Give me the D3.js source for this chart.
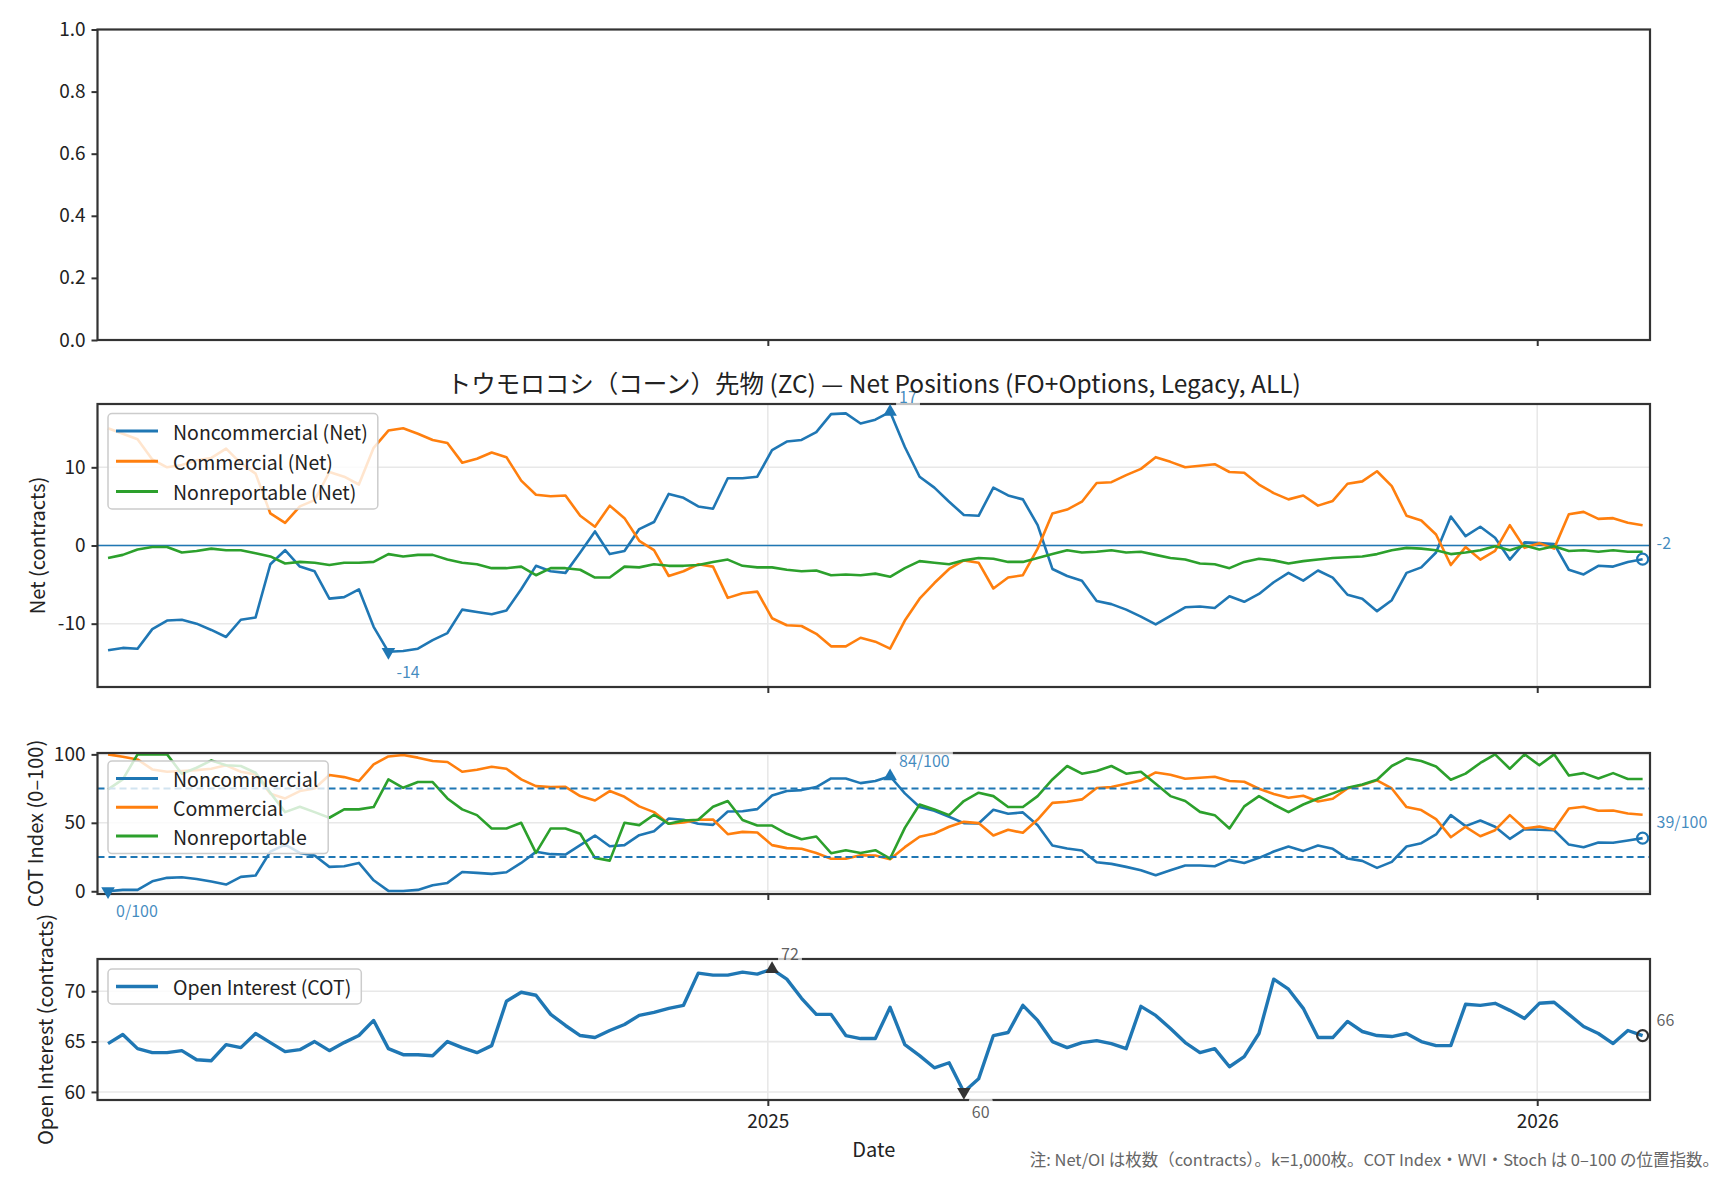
<!DOCTYPE html>
<html>
<head>
<meta charset="utf-8">
<script src="https://cdn.jsdelivr.net/npm/d3@7"></script>
<style>
  body { margin: 0; background: #fff; }
  text { font-family: "Noto Sans CJK JP", "Noto Sans", sans-serif; }
</style>
</head>
<body>
<svg id="chart" width="1728" height="1180"></svg>
<script>
// weekly COT report dates (Fridays)
const firstReport = "2024-02-23"
const lastReport = "2026-02-20"

// net positions, thousand contracts
const netNonc = [-13.4, -13.1, -13.2, -10.7, -9.6, -9.5, -10.0, -10.8, -11.7, -9.5, -9.2, -2.4, -0.6, -2.7, -3.3, -6.8, -6.6, -5.6, -10.4, -13.6, -13.5, -13.2, -12.1, -11.2, -8.2, -8.5, -8.8, -8.3, -5.6, -2.6, -3.3, -3.5, -0.9, 1.8,
  -1.1, -0.7, 2.1, 3.0, 6.6, 6.1, 5.0, 4.7, 8.6, 8.6, 8.8, 12.2, 13.3, 13.5, 14.5, 16.8, 16.9, 15.6, 16.1, 17.1, 12.6, 8.8, 7.4, 5.6, 3.9, 3.8, 7.4, 6.4, 5.9, 2.6, -3.0, -3.9, -4.5, -7.1, -7.5, -8.2, -9.1, -10.1, -9.0, -7.9,
  -7.8, -8.0, -6.5, -7.2, -6.2, -4.7, -3.5, -4.5, -3.2, -4.1, -6.3, -6.8, -8.4, -7.0, -3.5, -2.8, -0.9, 3.7, 1.2, 2.4, 1.0, -1.8, 0.4, 0.3, 0.2, -3.1, -3.7, -2.6, -2.7, -2.1, -1.75]
const netComm = [15.0, 14.3, 13.6, 11.0, 10.0, 10.3, 10.9, 11.2, 12.4, 10.5, 9.2, 4.1, 2.9, 5.0, 5.8, 9.4, 8.8, 7.8, 12.5, 14.7, 15.0, 14.3, 13.5, 13.1, 10.6, 11.1, 11.9, 11.3, 8.3, 6.5, 6.3, 6.4, 3.8, 2.4,
  5.1, 3.5, 0.6, -0.6, -3.9, -3.3, -2.4, -2.7, -6.7, -6.1, -5.9, -9.3, -10.2, -10.3, -11.3, -12.9, -12.9, -11.8, -12.3, -13.2, -9.6, -6.8, -4.8, -3.0, -1.9, -2.2, -5.5, -4.1, -3.8, -0.4, 4.1, 4.6, 5.6, 8.0, 8.1, 9.0, 9.8, 11.3, 10.7, 10.0,
  10.2, 10.4, 9.4, 9.3, 7.8, 6.7, 5.9, 6.4, 5.1, 5.7, 7.9, 8.2, 9.5, 7.6, 3.8, 3.2, 1.4, -2.5, -0.2, -1.8, -0.7, 2.6, -0.3, 0.3, -0.4, 4.0, 4.3, 3.4, 3.5, 2.9, 2.6]
const netNonrep = [-1.6, -1.2, -0.5, -0.2, -0.2, -0.9, -0.7, -0.4, -0.6, -0.6, -1.0, -1.4, -2.3, -2.1, -2.2, -2.5, -2.2, -2.2, -2.1, -1.1, -1.4, -1.2, -1.2, -1.8, -2.2, -2.4, -2.9, -2.9, -2.7, -3.8, -2.9, -2.9, -3.1, -4.1,
  -4.1, -2.7, -2.8, -2.4, -2.6, -2.6, -2.5, -2.1, -1.8, -2.6, -2.8, -2.8, -3.1, -3.3, -3.2, -3.8, -3.7, -3.8, -3.6, -4.0, -2.9, -2.0, -2.2, -2.4, -1.9, -1.6, -1.7, -2.1, -2.1, -1.6, -1.1, -0.6, -0.9, -0.8, -0.6, -0.9, -0.8, -1.2, -1.6, -1.8,
  -2.3, -2.4, -2.9, -2.1, -1.7, -1.9, -2.3, -2.0, -1.8, -1.6, -1.5, -1.4, -1.1, -0.6, -0.3, -0.4, -0.6, -1.1, -0.9, -0.6, -0.1, -0.6, 0.0, -0.5, -0.1, -0.7, -0.6, -0.8, -0.6, -0.8, -0.8]

// COT index 0-100
const cotNonc = [0, 1, 1, 7.3, 9.8, 10.2, 9.0, 7.1, 4.9, 10.5, 11.5, 29.0, 34.1, 28, 26.1, 17.8, 18.3, 20.7, 8.0, 0.3, 0.2, 1, 4.4, 6.1, 14.1, 13.4, 12.7, 13.9, 20.7, 28.8, 27.1, 26.8, 33.7, 40.7,
  32.9, 33.7, 41, 43.9, 53.2, 52.2, 49.3, 48.5, 58.3, 58.5, 60, 70, 73.2, 73.9, 76.1, 82.4, 82.4, 79, 80.5, 84, 71.5, 61.5, 58.8, 54.4, 49.8, 49.5, 59.5, 56.6, 57.6, 48.3, 33.4, 31.2, 29.8, 21.2, 20, 17.8, 15.4, 11.7, 15.4, 18.8,
  18.8, 18.3, 22.9, 20.7, 24.4, 29, 32.7, 29.5, 33.4, 31, 23.9, 22.2, 17.1, 21.5, 32.7, 35.1, 41.5, 55.6, 47.6, 51.7, 47.1, 38.3, 45.4, 44.9, 44.6, 34.1, 32.2, 35.6, 35.4, 37.1, 38.8]
const cotComm = [100, 98.3, 96.3, 89, 87.3, 87.8, 88.5, 89.5, 92, 87.3, 85.4, 71.2, 67.8, 73.2, 75.1, 84.9, 83.4, 80.5, 92.7, 98.5, 99.5, 97.6, 95.1, 94.4, 87.3, 88.8, 91, 89.5, 81.7, 76.8, 76.1, 76.3, 69.5, 66.3,
  73.2, 69, 62, 57.8, 49.3, 50.2, 52.2, 52.4, 41.7, 43.4, 42.9, 33.7, 31.5, 31, 28, 23.7, 23.7, 26.3, 26.1, 23.4, 32.2, 39.8, 42.2, 47.1, 50.7, 49.8, 40.7, 44.9, 42.7, 52.4, 64.6, 65.4, 67.1, 75.4, 76.1, 78.5, 81, 86.8, 85.1, 82.2,
  82.9, 83.7, 80.5, 80, 74.9, 71, 68.3, 69.8, 65.6, 67.6, 75.1, 77.6, 81, 75.1, 61.5, 59.3, 52.7, 39.5, 47.1, 40.2, 44.6, 55.6, 45.9, 47.3, 45.1, 60.5, 61.7, 58.8, 59, 56.8, 55.9]
const cotNonrep = [74.4, 81.7, 100, 100, 100, 85.9, 90.2, 95.6, 92, 91.5, 86.6, 72, 57.8, 61.7, 57.8, 53.7, 59.8, 59.8, 61.5, 81.7, 75.6, 79.8, 79.8, 67.8, 59.8, 55.6, 45.9, 45.9, 50, 28, 45.9, 45.9, 42, 24.4,
  22.4, 50, 48.3, 55.9, 49.3, 51.7, 52.2, 61.7, 65.9, 52, 48, 48, 42, 38, 40, 27.8, 30, 28, 30, 23.9, 46.3, 63.4, 59.8, 55.6, 65.9, 72, 69.5, 61.5, 61.5, 69.5, 81.7, 91.5, 85.9, 87.8, 91.5, 85.9, 87.3, 78.5, 69.5, 65.9,
  58, 55.6, 45.9, 62, 69.5, 63.4, 57.8, 63.4, 67.8, 71.5, 75.6, 78, 81.5, 91.5, 97.1, 95.1, 91.2, 81.5, 85.9, 93.7, 100, 89.5, 100, 92, 100, 84.6, 86.3, 82.4, 86.3, 82, 82]

// open interest, thousand contracts
const openInterest = [64.8, 65.7, 64.3, 63.9, 63.9, 64.1, 63.2, 63.1, 64.7, 64.4, 65.8, 64.9, 64.0, 64.2, 65.0, 64.1, 64.9, 65.6, 67.1, 64.3, 63.7, 63.7, 63.6, 65.0, 64.4, 63.9, 64.6, 69.0, 69.9, 69.6, 67.7, 66.6, 65.6, 65.4,
  66.1, 66.7, 67.6, 67.9, 68.3, 68.6, 71.8, 71.6, 71.6, 71.9, 71.7, 72.2, 71.2, 69.3, 67.7, 67.7, 65.6, 65.3, 65.3, 68.4, 64.7, 63.6, 62.4, 62.9, 60.0, 61.3, 65.6, 65.9, 68.6, 67.1, 65.0, 64.4, 64.9, 65.1, 64.8, 64.3, 68.5, 67.6, 66.3, 64.9,
  63.9, 64.3, 62.5, 63.5, 65.8, 71.2, 70.2, 68.3, 65.4, 65.4, 67.0, 66.0, 65.6, 65.5, 65.8, 65.0, 64.6, 64.6, 68.7, 68.6, 68.8, 68.1, 67.3, 68.8, 68.9, 67.7, 66.5, 65.8, 64.8, 66.1, 65.6]

const topTicks = [0, 0.2, 0.4, 0.6, 0.8, 1.0]
const netTicks = [-10, 0, 10]
const cotTicks = [0, 50, 100]
const cotBands = [25, 75]
const oiTicks = [60, 65, 70]
const yearTicks = ["2025-01-01", "2026-01-01"]

const titleText = "トウモロコシ（コーン）先物 (ZC) — Net Positions (FO+Options, Legacy, ALL)"
const noteText = "注: Net/OI は枚数（contracts）。k=1,000枚。COT Index・WVI・Stoch は 0–100 の位置指数。"

const BLUE = "#1f77b4", ORANGE = "#ff7f0e", GREEN = "#2ca02c"
const L = 97.5, R = 1650
const FONT = "\"Noto Sans CJK JP\", \"Noto Sans\", sans-serif"

const parse = d3.utcParse("%Y-%m-%d")
const dates = d3.utcFriday.range(parse(firstReport), d3.utcDay.offset(parse(lastReport), 1))
const years = yearTicks.map(parse)

const svg = d3.select("#chart")

const x = d3.scaleUtc()
  .domain([parse("2024-02-18"), new Date(Date.UTC(2026, 1, 23, 12))])
  .range([L, R])

// one axes box with grid, ticks and frame
function makePanel(top, bottom, domain, ticks, fmt, opts) {
  const y = d3.scaleLinear().domain(domain).range([bottom, top])
  const g = svg.append("g")
  const grid = g.append("g"), data = g.append("g"), legend = g.append("g"), frame = g.append("g"), notes = g.append("g")

  if (opts.grid) {
    grid.selectAll(".hg").data(ticks).join("line")
      .attr("x1", L).attr("x2", R)
      .attr("y1", d => y(d)).attr("y2", d => y(d))
      .attr("stroke", "#e8e8e8").attr("stroke-width", 1.6)
    grid.selectAll(".vg").data(years).join("line")
      .attr("x1", d => x(d)).attr("x2", d => x(d))
      .attr("y1", top).attr("y2", bottom)
      .attr("stroke", "#e8e8e8").attr("stroke-width", 1.6)
  }

  const ya = frame.append("g").attr("transform", `translate(${L},0)`)
    .call(d3.axisLeft(y).tickValues(ticks).tickFormat(fmt).tickSize(6).tickPadding(6))
  const xa = frame.append("g").attr("transform", `translate(0,${bottom})`)
    .call(d3.axisBottom(x).tickValues(years).tickFormat(opts.xLabels ? d3.utcFormat("%Y") : "").tickSize(6).tickPadding(9))
  ;[ya, xa].forEach(a => {
    a.select(".domain").remove()
    a.attr("color", "#333").attr("font-family", FONT).attr("font-size", 19)
    a.selectAll("line").attr("stroke-width", 2)
    a.selectAll("text").attr("fill", "#222")
  })

  frame.append("rect")
    .attr("x", L).attr("y", top)
    .attr("width", R - L).attr("height", bottom - top)
    .attr("fill", "none").attr("stroke", "#333").attr("stroke-width", 2.2)

  if (opts.label) {
    svg.append("text")
      .attr("transform", `translate(${opts.labelX},${(top + bottom) / 2}) rotate(-90)`)
      .attr("text-anchor", "middle").attr("dominant-baseline", "central")
      .attr("font-size", 20).attr("fill", "#222")
      .text(opts.label)
  }
  return { y, data, legend, notes }
}

function drawLine(p, values, color, width) {
  p.data.append("path")
    .datum(values)
    .attr("fill", "none").attr("stroke", color).attr("stroke-width", width)
    .attr("stroke-linejoin", "round")
    .attr("d", d3.line().x((d, i) => x(dates[i])).y(d => p.y(d)))
}

function drawLegend(p, x0, y0, items, lw, pitch) {
  const box = p.legend.append("rect")
  const rows = items.map((it, k) => {
    const cy = y0 + 17.5 + k * pitch
    p.legend.append("line")
      .attr("x1", x0 + 8).attr("x2", x0 + 50).attr("y1", cy).attr("y2", cy)
      .attr("stroke", it.color).attr("stroke-width", lw)
    return p.legend.append("text")
      .attr("x", x0 + 65).attr("y", cy)
      .attr("dominant-baseline", "central")
      .attr("font-size", 19.5).attr("fill", "#222")
      .text(it.name)
  })
  const w = d3.max(rows, t => t.node().getComputedTextLength()) + 65 + 10
  box.attr("x", x0).attr("y", y0).attr("width", w).attr("height", (items.length - 1) * pitch + 35)
    .attr("rx", 4).attr("fill", "#fff").attr("fill-opacity", 0.8)
    .attr("stroke", "#cccccc").attr("stroke-width", 1.5)
}

// small label with a translucent white box
function tag(p, px, py, dx, dy, label, color) {
  const t = p.notes.append("text")
    .attr("x", px + dx).attr("y", py + dy)
    .attr("dominant-baseline", "central")
    .attr("font-size", 16).attr("fill", color).attr("fill-opacity", 0.85)
    .text(label)
  const b = t.node().getBBox()
  p.notes.insert("rect", () => t.node())
    .attr("x", b.x - 3).attr("y", b.y - 1)
    .attr("width", b.width + 6).attr("height", b.height + 2)
    .attr("rx", 3).attr("fill", "#fff").attr("fill-opacity", 0.7)
}

function marker(p, i, v, type, color) {
  const px = x(dates[i]), py = p.y(v)
  if (type === "o") {
    p.notes.append("circle").attr("cx", px).attr("cy", py).attr("r", 5.5)
      .attr("fill", "none").attr("stroke", color).attr("stroke-width", 2.2)
  } else {
    p.notes.append("path")
      .attr("d", d3.symbol(d3.symbolTriangle, 80)())
      .attr("transform", `translate(${px},${py})${type === "v" ? " rotate(180)" : ""}`)
      .attr("fill", color)
  }
  return [px, py]
}

// extremes and latest value on one series
function markSeries(p, values, color, textColor, fmt) {
  const iMax = d3.maxIndex(values), iMin = d3.minIndex(values), iLast = values.length - 1
  let [ax, ay] = marker(p, iMax, values[iMax], "^", color)
  tag(p, ax, ay, 9, -16, fmt(values[iMax]), textColor)
  ;[ax, ay] = marker(p, iMin, values[iMin], "v", color)
  tag(p, ax, ay, 8, 19, fmt(values[iMin]), textColor)
  ;[ax, ay] = marker(p, iLast, values[iLast], "o", color)
  tag(p, ax, ay, 14, -17, fmt(values[iLast]), textColor)
}

const plain = d => String(Math.round(d))

// top empty axes
makePanel(29.5, 340, [0, 1], topTicks, d3.format(".1f"), { grid: false })

// net positions
const net = makePanel(404, 687, [-18.1, 18.1], netTicks, plain, { grid: true, label: "Net (contracts)", labelX: 36 })
net.data.append("line")
  .attr("x1", L).attr("x2", R).attr("y1", net.y(0)).attr("y2", net.y(0))
  .attr("stroke", BLUE).attr("stroke-width", 1.7)
drawLine(net, netNonc, BLUE, 2.6)
drawLine(net, netComm, ORANGE, 2.6)
drawLine(net, netNonrep, GREEN, 2.6)
drawLegend(net, 108, 413.5, [
  { name: "Noncommercial (Net)", color: BLUE },
  { name: "Commercial (Net)", color: ORANGE },
  { name: "Nonreportable (Net)", color: GREEN }
], 3, 30.2)
markSeries(net, netNonc, BLUE, BLUE, plain)

svg.append("text")
  .attr("x", (L + R) / 2).attr("y", 382)
  .attr("text-anchor", "middle").attr("dominant-baseline", "central")
  .attr("font-size", 24.5).attr("fill", "#222")
  .text(titleText)

// COT index
const cot = makePanel(753, 894, [-2, 101], cotTicks, plain, { grid: true, label: "COT Index (0–100)", labelX: 34 })
drawLine(cot, cotNonc, BLUE, 2.6)
drawLine(cot, cotComm, ORANGE, 2.6)
drawLine(cot, cotNonrep, GREEN, 2.6)
cot.data.selectAll(".band").data(cotBands).join("line")
  .attr("x1", L).attr("x2", R).attr("y1", d => cot.y(d)).attr("y2", d => cot.y(d))
  .attr("stroke", BLUE).attr("stroke-width", 2).attr("stroke-dasharray", "7,4")
drawLegend(cot, 108, 761, [
  { name: "Noncommercial", color: BLUE },
  { name: "Commercial", color: ORANGE },
  { name: "Nonreportable", color: GREEN }
], 3, 28.8)
markSeries(cot, cotNonc, BLUE, BLUE, d => `${Math.round(d)}/100`)

// open interest
const oi = makePanel(959, 1100, [59.2, 73.2], oiTicks, plain, { grid: true, xLabels: true, label: "Open Interest (contracts)", labelX: 44 })
drawLine(oi, openInterest, BLUE, 3.4)
drawLegend(oi, 108, 969, [{ name: "Open Interest (COT)", color: BLUE }], 3.4, 30)
markSeries(oi, openInterest, "#333", "#444", plain)

svg.append("text")
  .attr("x", (L + R) / 2).attr("y", 1148)
  .attr("text-anchor", "middle").attr("dominant-baseline", "central")
  .attr("font-size", 20).attr("fill", "#222")
  .text("Date")

svg.append("text")
  .attr("x", 1719).attr("y", 1159)
  .attr("text-anchor", "end").attr("dominant-baseline", "central")
  .attr("font-size", 16.5).attr("fill", "#666")
  .text(noteText)
</script>
</body>
</html>
